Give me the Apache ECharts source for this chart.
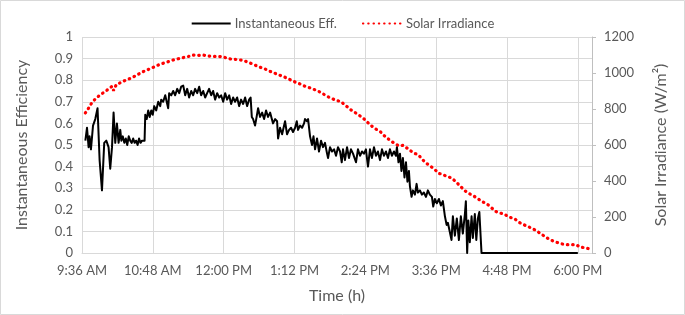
<!DOCTYPE html>
<html>
<head>
<meta charset="utf-8">
<script src="https://cdn.jsdelivr.net/npm/echarts@6/dist/echarts.min.js"></script>
<style>
html,body{margin:0;padding:0;background:#fff;}
#chart{width:685px;height:315px;}
</style>
</head>
<body>
<div id="chart"></div>
<script>
// Time in minutes after midnight
var xTickLabels = ['9:36 AM','10:48 AM','12:00 PM','1:12 PM','2:24 PM','3:36 PM','4:48 PM','6:00 PM'];

var effTimes = [579.4,581.1,582.7,583.7,585.1,587.2,589.5,591.8,593.9,596.3,598.6,600.7,603.0,604.7,606.5,608.1,609.8,611.5,613.2,614.9,
616,617.5,619,620.5,622,623.5,625,626.5,628,629.5,631,632.5,634,635.5,637,
639.6,640.3,641.8,643.3,644.8,646.4,647.9,649.4,651.4,653.5,655.5,656.5,658.5,660.6,662.1,663.6,664.6,666.7,668.7,670.7,672.8,674.8,676.8,678.9,680.9,682.9,684.9,687.0,689.0,691.0,693.1,695.1,697.1,699.2,701.2,703.2,705.2,707.3,709.3,711.3,713.4,715.4,717.4,719.5,721.5,723.5,725.6,727.6,729.6,731.6,733.7,735.7,737.7,739.8,741.8,743.8,745.9,747.4,748.6,749.9,751.9,753.5,755.0,757.0,759.1,761.1,763.1,765.1,767.2,768.9,770.2,772.3,774.3,775.3,777.3,779.4,781.4,782.4,784.4,786.5,788.5,790.5,792.6,794.3,795.6,797.6,799.7,801.7,802.7,804.7,805.8,807.8,809.8,811.3,812.9,814.9,816.9,819.0,821.0,823.0,825.1,826.1,828.1,830.1,832.2,834.2,836.2,838.3,840.0,841.3,843.3,845.4,847.4,849.4,851.5,854.5,856.5,858.6,860.6,862.6,864.6,866.7,868.7,870.7,872.8,874.8,876.8,878.9,880.9,882.9,885.0,887.0,889.0,891.0,893.1,895.1,896.1,897.7,899.2,900.7,902.2,903.8,905.3,906.8,908.3,909.3,911.0,912.4,914.4,916.1,917.4,919.5,921.5,923.5,925.6,927.6,929.6,931.7,933.0,934.7,936.7,938.8,940.8,942.8,944.9,946.6,947.9,949.9,951.6,953.0,955.0,957.0,959.1,961.1,963.1,965.2,966.2,967.5,968.7,970.2,972.0,973.3,975.3,976.8,978.4,979.9,982.1,1080];

var effValues = [0.52,0.58,0.49,0.54,0.48,0.59,0.62,0.67,0.43,0.29,0.51,0.52,0.49,0.39,0.49,0.65,0.51,0.60,0.51,0.57,
0.52,0.54,0.51,0.53,0.50,0.54,0.52,0.51,0.53,0.51,0.52,0.50,0.53,0.51,0.52,
0.52,0.64,0.62,0.66,0.63,0.66,0.64,0.68,0.66,0.70,0.68,0.71,0.70,0.73,0.70,0.67,0.74,0.73,0.75,0.73,0.76,0.74,0.77,0.775,0.73,0.76,0.72,0.75,0.73,0.76,0.74,0.77,0.73,0.75,0.72,0.74,0.76,0.73,0.75,0.71,0.74,0.72,0.73,0.70,0.74,0.71,0.73,0.69,0.72,0.70,0.72,0.68,0.71,0.69,0.72,0.68,0.71,0.72,0.63,0.62,0.59,0.63,0.67,0.63,0.65,0.62,0.66,0.63,0.65,0.655,0.60,0.62,0.61,0.53,0.58,0.55,0.59,0.61,0.55,0.57,0.58,0.56,0.58,0.61,0.57,0.59,0.58,0.60,0.62,0.61,0.62,0.54,0.50,0.54,0.48,0.53,0.47,0.52,0.49,0.51,0.46,0.44,0.49,0.47,0.48,0.45,0.49,0.47,0.42,0.48,0.43,0.49,0.44,0.48,0.46,0.42,0.48,0.45,0.47,0.46,0.48,0.40,0.48,0.44,0.49,0.45,0.47,0.43,0.48,0.45,0.47,0.44,0.48,0.45,0.47,0.45,0.49,0.42,0.46,0.38,0.44,0.35,0.42,0.33,0.38,0.31,0.26,0.29,0.27,0.32,0.28,0.29,0.27,0.28,0.26,0.29,0.27,0.26,0.215,0.25,0.23,0.25,0.22,0.24,0.17,0.13,0.14,0.14,0.06,0.17,0.08,0.16,0.06,0.17,0.09,0.18,0.24,0.0,0.15,0.05,0.17,0.07,0.18,0.06,0.16,0.19,0.0,0.0];

var irrTimes = [579.4,582.7,586.2,590.5,594.6,598.6,603.0,606.5,608.1,610.8,615.6,620.0,624.3,629.1,633.5,637.9,642.6,647.1,652.1,657.2,661.6,666.4,670.7,675.8,679.9,684.2,688.3,693.4,698.9,704.5,709.6,714.7,719.8,724.9,730.0,735.0,740.1,745.2,751.0,756.4,762.1,767.2,772.3,777.3,782.4,787.5,792.6,797.6,802.7,807.8,810.5,815.2,819.7,824.0,828.8,834.2,839.0,844.3,849.1,854.2,859.3,863.6,868.7,873.8,878.9,883.2,888.3,893.1,898.2,902.5,907.6,912.7,917.8,922.3,925.6,929.6,934.7,939.1,941.5,946.6,951.7,956.8,960.8,965.2,968.5,973.0,977.7,982.1,987.2,991.3,996.3,1000.7,1004.8,1010.1,1015.9,1020.3,1025.1,1030.5,1036.2,1041.3,1046.4,1051.5,1057.6,1062.6,1067.7,1073.5,1078.6,1081.9,1088.7,1093.9];

var irrValues = [778,805,837,861,879,894,911,926,902,935,948,959,968,981,994,1007,1018,1028,1041,1052,1059,1068,1076,1081,1087,1092,1100,1097,1100,1094,1092,1092,1089,1079,1076,1074,1070,1059,1046,1033,1022,1009,998,987,976,963,950,939,926,917,911,902,889,874,861,848,842,818,796,778,759,741,713,691,676,652,629,611,595,598,578,556,546,518,500,485,463,441,439,426,417,392,370,346,333,320,305,287,274,256,231,222,217,200,189,170,157,144,129,111,92,74,61,52,46,46,46,33,28,18];

var effData = effTimes.map(function(t,i){return [t, effValues[i]];});
var irrData = irrTimes.map(function(t,i){return [t, irrValues[i]];});

var xMin = 576, xMax = 1094.4, xStep = 72;
var txt = '#595959', grid = '#d9d9d9', font = 'Lato';

var chart = echarts.init(document.getElementById('chart'), null, {renderer:'canvas'});
chart.setOption({
  animation:false,
  backgroundColor:'#fff',
  textStyle:{fontFamily:font},
  graphic:[{type:'rect',shape:{x:0.5,y:0.5,width:684,height:314},style:{fill:'none',stroke:'#d9d9d9',lineWidth:1},silent:true}],
  legend:{
    top:12, left:'center', itemGap:25, itemWidth:39, itemHeight:12,
    textStyle:{color:txt,fontSize:13,fontFamily:font,padding:[0,0,0,-1]},
    itemStyle:{opacity:0},
    data:['Instantaneous Eff.','Solar Irradiance']
  },
  grid:{left:82, right:93, top:37, bottom:62, containLabel:false},
  xAxis:{
    type:'value', min:xMin, max:xMax, interval:xStep,
    name:'Time (h)', nameLocation:'middle', nameGap:35,
    nameTextStyle:{color:txt,fontSize:16,fontFamily:font},
    axisLine:{show:true,lineStyle:{color:grid}},
    axisTick:{show:false},
    splitLine:{show:true,lineStyle:{color:grid,width:1}},
    axisLabel:{color:txt,fontSize:13,margin:11,fontFamily:font,showMaxLabel:false,
      formatter:function(v){
        var k = Math.round((v-xMin)/xStep);
        if (Math.abs(v-(xMin+k*xStep))>0.01) return '';
        return xTickLabels[k] || '';
      }}
  },
  yAxis:[{
    type:'value', min:0, max:1, interval:0.1,
    name:'Instantaneous Efficiency', nameLocation:'middle', nameGap:52,
    nameTextStyle:{color:txt,fontSize:16,fontFamily:font},
    axisLine:{show:false}, axisTick:{show:false},
    splitLine:{show:true,lineStyle:{color:grid,width:1}},
    axisLabel:{color:txt,fontSize:13,margin:9,fontFamily:font,
      formatter:function(v){return String(Math.round(v*10)/10);}}
  },{
    type:'value', min:0, max:1200, interval:200, position:'right',
    name:'Solar Irradiance (W/m\u00B2)', nameLocation:'middle', nameGap:61,
    nameTextStyle:{color:txt,fontSize:16,fontFamily:font},
    axisLine:{show:true,lineStyle:{color:'#bfbfbf'}},
    axisTick:{show:true,inside:false,length:4,lineStyle:{color:'#bfbfbf'}},
    splitLine:{show:false},
    axisLabel:{color:txt,fontSize:13,margin:12,fontFamily:font,
      formatter:function(v){return String(Math.round(v));}}
  }],
  series:[{
    name:'Instantaneous Eff.', type:'line', data:effData, yAxisIndex:0,
    symbol:'none', showSymbol:false, z:3,
    lineStyle:{color:'#000',width:2,join:'round'},
    itemStyle:{color:'#000'}
  },{
    name:'Solar Irradiance', type:'line', data:irrData, yAxisIndex:1,
    symbol:'none', showSymbol:false, z:2,
    lineStyle:{color:'#ff0000',width:3.2,type:[0.5,4.8],cap:'round'},
    itemStyle:{color:'#ff0000'}
  }]
});
</script>
</body>
</html>
